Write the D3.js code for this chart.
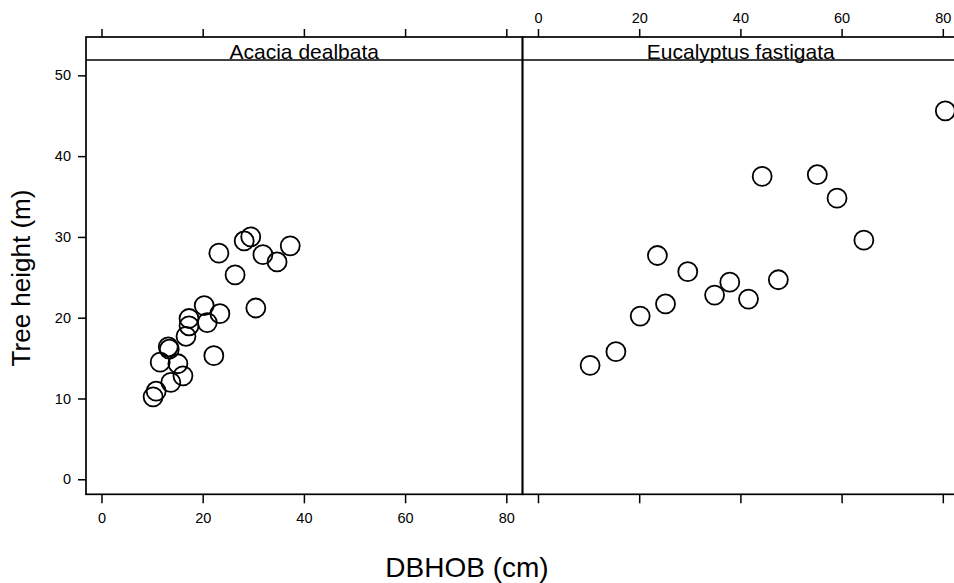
<!DOCTYPE html>
<html>
<head>
<meta charset="utf-8">
<script src="https://cdn.jsdelivr.net/npm/d3@7"></script>
<style>
  html, body { margin: 0; padding: 0; background: #fff; }
  svg { display: block; font-family: "Liberation Sans", Arial, sans-serif; }
</style>
</head>
<body>
<svg id="chart" width="954" height="583"></svg>
<script>
const panels = ["Acacia dealbata", "Eucalyptus fastigata"];
const xTicks = [0, 20, 40, 60, 80];
const yTicks = [0, 10, 20, 30, 40, 50];

const acaciaDbh = [10.2, 10.8, 11.6, 13.7, 13.2, 13.4, 15.1, 16.1, 16.7, 17.3, 17.3, 20.3, 20.9, 23.4, 22.2, 23.2, 26.4, 28.2, 29.5, 30.5, 31.9, 34.7, 37.3];
const acaciaHeight = [10.2, 10.9, 14.5, 12.0, 16.4, 16.1, 14.3, 12.8, 17.7, 19.9, 19.0, 21.5, 19.4, 20.5, 15.3, 28.0, 25.3, 29.5, 30.0, 21.2, 27.8, 26.9, 28.9];

const eucDbh = [10.3, 15.4, 20.2, 23.6, 25.2, 29.6, 34.9, 37.9, 41.6, 44.3, 47.5, 55.2, 59.1, 64.4, 80.5];
const eucHeight = [14.1, 15.8, 20.2, 27.7, 21.7, 25.7, 22.8, 24.4, 22.3, 37.5, 24.7, 37.7, 34.8, 29.6, 45.6];

const series = [
  { name: panels[0], x: acaciaDbh, y: acaciaHeight },
  { name: panels[1], x: eucDbh, y: eucHeight }
];

const svg = d3.select("#chart");
const xDomain = [-3.06, 83.2];
const panelW = 436.5;
const left0 = 86;
const stripTop = 37, stripBottom = 60, plotBottom = 494.3;
const tickFont = 14.5;

const y = d3.scaleLinear().domain([-1.86, 51.9]).range([plotBottom, stripBottom]);

series.forEach((s, i) => {
  const x0 = left0 + i * panelW;
  const x = d3.scaleLinear().domain(xDomain).range([x0, x0 + panelW]);
  const g = svg.append("g");

  g.selectAll("circle").data(s.x.map((d, k) => [d, s.y[k]])).enter()
    .append("circle")
    .attr("cx", d => x(d[0]))
    .attr("cy", d => y(d[1]))
    .attr("r", 9.5)
    .attr("fill", "none")
    .attr("stroke", "#000")
    .attr("stroke-width", 1.8);

  g.append("rect").attr("x", x0).attr("y", stripTop).attr("width", panelW).attr("height", plotBottom - stripTop)
    .attr("fill", "none").attr("stroke", "#000").attr("stroke-width", 1.7);
  g.append("line").attr("x1", x0).attr("x2", x0 + panelW).attr("y1", stripBottom).attr("y2", stripBottom)
    .attr("stroke", "#000").attr("stroke-width", 1.4);
  g.append("text").attr("x", x0 + panelW / 2).attr("y", stripBottom - 1)
    .attr("text-anchor", "middle").attr("font-size", 21).text(s.name);

  const bottom = d3.axisBottom(x).tickValues(xTicks).tickSize(9).tickSizeOuter(0).tickPadding(9);
  const top = d3.axisTop(x).tickValues(xTicks).tickSize(8).tickSizeOuter(0).tickPadding(6);
  const gb = g.append("g").attr("transform", `translate(0,${plotBottom})`).call(bottom);
  const gt = g.append("g").attr("transform", `translate(0,${stripTop})`).call(top);
  [gb, gt].forEach(a => a.select(".domain").remove());
  if (i === 0) {
    gt.selectAll("text").remove();
    gb.selectAll("text").attr("font-size", tickFont).attr("font-family", "Liberation Sans, Arial, sans-serif").attr("fill", "#000");
  } else {
    gb.selectAll("text").remove();
    gt.selectAll("text").attr("font-size", tickFont).attr("font-family", "Liberation Sans, Arial, sans-serif").attr("fill", "#000");
  }
  g.selectAll(".tick line").attr("stroke", "#000").attr("stroke-width", 1.5);
});

const gy = svg.append("g").attr("transform", `translate(${left0},0)`)
  .call(d3.axisLeft(y).tickValues(yTicks).tickSize(8).tickSizeOuter(0).tickPadding(7));
gy.select(".domain").remove();
gy.selectAll(".tick line").attr("stroke", "#000").attr("stroke-width", 1.5);
gy.selectAll("text").attr("font-size", tickFont).attr("font-family", "Liberation Sans, Arial, sans-serif").attr("fill", "#000");

svg.append("text").attr("x", 467).attr("y", 577).attr("text-anchor", "middle")
  .attr("font-size", 28).text("DBHOB (cm)");
svg.append("text").attr("transform", "translate(30,278) rotate(-90)").attr("text-anchor", "middle")
  .attr("font-size", 26).text("Tree height (m)");
</script>
</body>
</html>
